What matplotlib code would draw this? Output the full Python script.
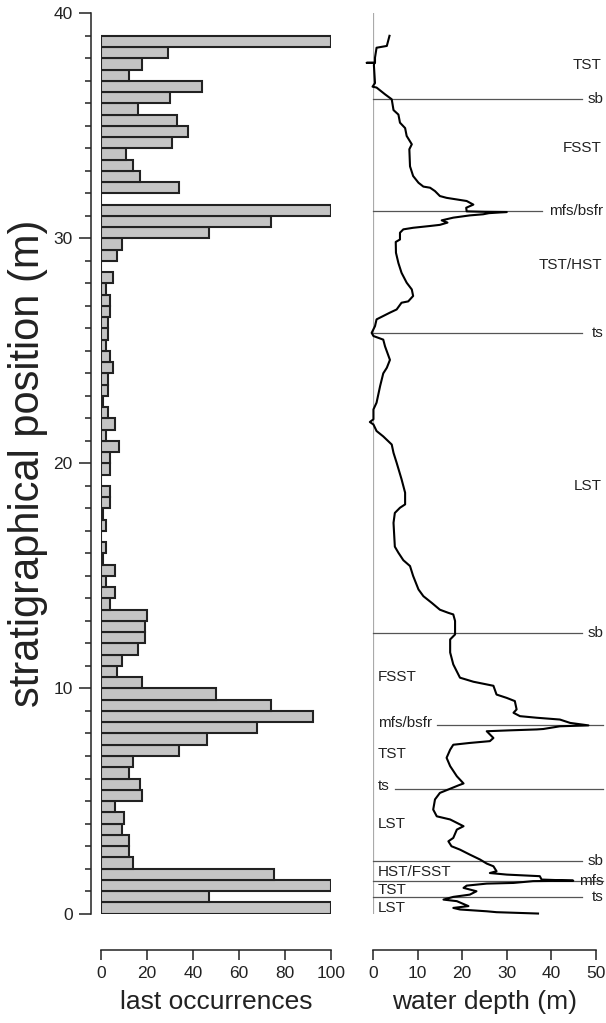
import matplotlib
matplotlib.use("Agg")
import matplotlib.pyplot as plt
import numpy as np

plt.rcParams['font.family'] = ['Liberation Sans', 'DejaVu Sans']

# last occurrences, 0.5 m bins from 0 to 39 m (bottom to top)
bin_bottom = np.arange(0, 39, 0.5)
last_occ = [100, 47, 100, 75, 14, 12, 12, 9, 10, 6,
            18, 17, 12, 14, 34, 46, 68, 92, 74, 50,
            18, 7, 9, 16, 19, 19, 20, 4, 6, 2,
            6, 1, 2, 0, 2, 1, 4, 4, 0, 4,
            4, 8, 2, 6, 3, 1, 3, 3, 5, 4,
            2, 3, 3, 4, 4, 2, 5, 0, 7, 9,
            47, 74, 100, 0, 34, 17, 14, 11, 31, 38,
            33, 16, 30, 44, 12, 18, 29, 100]

# water depth curve (top to bottom)
wd_pos = [39.0, 38.55, 38.47, 38.03, 37.8, 37.8, 37.8, 37.7, 36.9, 36.74,
          36.7, 36.4, 36.18, 35.7, 35.5, 35.14, 34.9, 34.55, 34.18, 33.96,
          33.2, 32.77, 32.47, 32.3, 32.25, 32.1, 31.88, 31.8, 31.73, 31.66,
          31.5, 31.36, 31.2, 31.18, 31.17, 31.12, 31.07, 31.02, 30.92, 30.8,
          30.7, 30.6, 30.55, 30.47, 30.4, 30.25, 29.95, 29.84, 29.36, 28.9,
          28.47, 28.03, 27.73, 27.44, 27.2, 27.14, 26.84, 26.7, 26.55, 26.4,
          26.1, 25.8, 25.66, 25.5, 25.2, 24.6, 24.25, 24.0, 23.44, 22.7,
          22.4, 21.96, 21.84, 21.73, 21.44, 21.2, 20.84, 20.47, 20.03, 19.3,
          18.7, 18.18, 18.03, 17.8, 17.36, 16.3, 16.03, 15.7, 15.44, 15.0,
          14.4, 14.1, 13.8, 13.5, 13.36, 13.29, 13.0, 12.4, 12.18, 11.6,
          11.07, 10.48, 10.3, 10.12, 9.73, 9.58, 9.44, 9.07, 8.92, 8.77,
          8.7, 8.62, 8.47, 8.36, 8.32, 8.2, 8.18, 8.14, 8.1, 7.8,
          7.66, 7.58, 7.5, 7.28, 6.92, 6.55, 6.1, 5.78, 5.69, 5.36,
          5.07, 4.62, 4.32, 4.18, 4.03, 3.88, 3.73, 3.36, 3.21, 2.99,
          2.84, 2.62, 2.4, 2.22, 2.1, 1.88, 1.8, 1.73, 1.66, 1.51,
          1.46, 1.44, 1.36, 1.33, 1.24, 1.14, 0.99, 0.84, 0.74, 0.62,
          0.55, 0.33, 0.25, 0.18, 0.1, 0.06, 0.0]
wd_depth = [3.7, 3.1, 0.8, 0.45, 0.45, -1.4, 0.3, 0.2, 0.45, -0.1,
            0.8, 2.7, 4.2, 4.6, 5.7, 6.05, 7.2, 7.55, 8.7, 8.15,
            8.3, 9.0, 10.2, 11.3, 12.8, 13.9, 15.0, 16.5, 18.8, 21.0,
            22.5, 20.9, 21.0, 25.0, 30.0, 26.0, 24.7, 21.7, 18.0, 15.4,
            16.7, 15.0, 12.8, 9.0, 6.8, 6.05, 6.05, 5.1, 5.15, 5.7,
            6.4, 7.55, 8.7, 9.0, 7.9, 6.4, 5.3, 3.8, 2.3, 0.8,
            0.45, -0.3, 0.1, 2.3, 2.7, 3.8, 3.1, 2.3, 1.6, 0.8,
            0.1, 0.1, -0.7, 0.1, 0.8, 2.3, 4.2, 4.6, 5.3, 6.4,
            7.2, 7.2, 6.05, 4.9, 4.6, 4.9, 5.7, 6.8, 8.3, 9.0,
            10.2, 11.3, 13.2, 15.0, 16.9, 18.0, 18.4, 18.4, 17.3, 17.3,
            18.0, 19.5, 22.5, 27.0, 27.7, 30.0, 31.8, 32.2, 31.5, 32.95,
            36.7, 41.9, 44.2, 48.3, 41.9, 38.2, 36.7, 30.7, 25.5, 27.0,
            26.2, 21.7, 18.0, 17.3, 16.5, 17.3, 18.8, 20.3, 19.1, 15.0,
            13.9, 13.5, 14.3, 17.3, 18.8, 20.3, 18.8, 18.0, 16.9, 17.6,
            19.5, 21.7, 24.0, 25.5, 27.0, 27.7, 26.2, 30.0, 37.4, 37.8,
            44.9, 35.9, 31.5, 25.5, 21.0, 20.3, 23.2, 21.7, 18.0, 15.8,
            18.8, 21.4, 18.0, 19.5, 25.5, 27.7, 37.0]

# sequence surfaces: position, line start, line end, label, label side
surf_pos = [36.2, 31.2, 25.8, 12.45, 8.36, 5.55, 2.35, 1.45, 0.75]
surf_x0 = [0, 0, 0, 0, 14.3, 4.9, 0, 0, 0]
surf_x1 = [46.9, 38.0, 46.9, 46.9, 51.6, 51.6, 46.9, 51.6, 46.9]
surf_name = ['sb', 'mfs/bsfr', 'ts', 'sb', 'mfs/bsfr', 'ts', 'sb', 'mfs', 'ts']
surf_side = ['r', 'r', 'r', 'r', 'l', 'l', 'r', 'r', 'r']

# systems tracts
tract_pos = [37.7, 34.0, 28.8, 19.0, 10.5, 7.1, 4.0, 1.85, 1.05, 0.25]
tract_name = ['TST', 'FSST', 'TST/HST', 'LST', 'FSST', 'TST', 'LST', 'HST/FSST', 'TST', 'LST']
tract_side = ['r', 'r', 'r', 'r', 'l', 'l', 'l', 'l', 'l', 'l']

txt = '#222222'
fig = plt.figure(figsize=(6.06, 10.23), dpi=100)
ax1 = fig.add_axes([0.1667, 0.1070, 0.3795, 0.880])
ax2 = fig.add_axes([0.6155, 0.1070, 0.3680, 0.880])

# left panel
ax1.barh(bin_bottom + 0.25, last_occ, height=0.5, color='#c4c4c4',
         edgecolor='#222222', linewidth=1.5)
ax1.set_xlim(0, 100)
ax1.set_ylim(0, 40)
ax1.spines['top'].set_visible(False)
ax1.spines['right'].set_visible(False)
ax1.spines['left'].set_position(('outward', 7))
ax1.spines['bottom'].set_position(('outward', 26))
ax1.spines['left'].set_bounds(0, 40)
ax1.spines['bottom'].set_bounds(0, 100)
ax1.set_yticks([0, 10, 20, 30, 40])
ax1.set_yticks(np.arange(0, 41, 1), minor=True)
ax1.set_xticks([0, 20, 40, 60, 80, 100])
ax1.tick_params(axis='y', which='major', length=8.5, width=1.1, pad=5, labelsize=12.5, colors=txt)
ax1.tick_params(axis='y', which='minor', length=4.3, width=1.1, colors=txt)
ax1.tick_params(axis='x', length=7, width=1.1, pad=5, labelsize=12.5, colors=txt)
ax1.set_xlabel('last occurrences', fontsize=19, color=txt, labelpad=6)
ax1.set_ylabel('stratigraphical position (m)', fontsize=30, color=txt, labelpad=4)
for s in ['left', 'bottom']:
    ax1.spines[s].set_linewidth(1.1)
    ax1.spines[s].set_color(txt)

# right panel
ax2.axvline(0, color='#aaaaaa', linewidth=1.6, zorder=1)
for p, a, b in zip(surf_pos, surf_x0, surf_x1):
    ax2.plot([a, b], [p, p], color='#555555', linewidth=0.9, clip_on=False, zorder=2)
ax2.plot(wd_depth, wd_pos, color='black', linewidth=1.5, clip_on=False, zorder=3)
for p, n, sd in zip(surf_pos, surf_name, surf_side):
    if sd == 'r':
        ax2.text(51.6, p, n, ha='right', va='center', fontsize=11, color=txt, clip_on=False)
    else:
        ax2.text(1.1, p + 0.1, n, ha='left', va='center', fontsize=11, color=txt,
                 bbox=dict(facecolor='white', edgecolor='none', pad=0.5))
for p, n, sd in zip(tract_pos, tract_name, tract_side):
    if sd == 'r':
        ax2.text(51.3, p, n, ha='right', va='center', fontsize=11, color=txt)
    else:
        ax2.text(1.1, p, n, ha='left', va='center', fontsize=11, color=txt)
ax2.set_xlim(0, 50)
ax2.set_ylim(0, 40)
for s in ['top', 'right', 'left']:
    ax2.spines[s].set_visible(False)
ax2.spines['bottom'].set_position(('outward', 26))
ax2.spines['bottom'].set_bounds(0, 50)
ax2.spines['bottom'].set_linewidth(1.1)
ax2.spines['bottom'].set_color(txt)
ax2.set_yticks([])
ax2.set_xticks([0, 10, 20, 30, 40, 50])
ax2.tick_params(axis='x', length=7, width=1.1, pad=5, labelsize=12.5, colors=txt)
ax2.set_xlabel('water depth (m)', fontsize=19, color=txt, labelpad=6)

fig.savefig('out.png', dpi=100)
